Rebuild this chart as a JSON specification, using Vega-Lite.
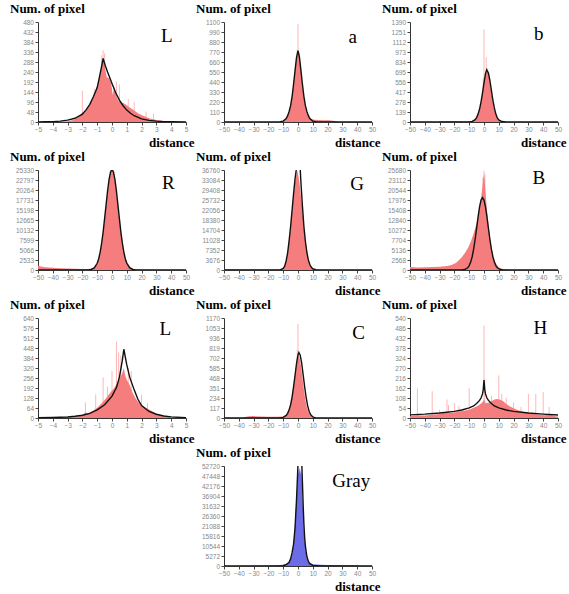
{
"$schema":"https://vega.github.io/schema/vega-lite/v6.json",
"padding":{"left":10,"top":3,"right":2,"bottom":2},
"background":"white",
"datasets":{
"lab":[{"p":"L1","t":"L","x":3.7,"y":413},{"p":"a","t":"a","x":37,"y":935},{"p":"b","t":"b","x":37,"y":1220},{"p":"R","t":"R","x":38,"y":22000},{"p":"G","t":"G","x":40,"y":31600},{"p":"B","t":"B","x":37,"y":23600},{"p":"L2","t":"L","x":3.6,"y":570},{"p":"C","t":"C","x":41,"y":995},{"p":"H","t":"H","x":38,"y":486},{"p":"Gy","t":"Gray","x":36,"y":44800}],
"hist":[
{"p":"L1","x":-5,"y":0},{"p":"L1","x":-3.5,"y":1},{"p":"L1","x":-3,"y":4},{"p":"L1","x":-2.6,"y":10},{"p":"L1","x":-2.3,"y":22},{"p":"L1","x":-2.1,"y":35},{"p":"L1","x":-2,"y":48},{"p":"L1","x":-1.9,"y":40},{"p":"L1","x":-1.7,"y":60},{"p":"L1","x":-1.5,"y":80},{"p":"L1","x":-1.3,"y":115},{"p":"L1","x":-1.1,"y":150},{"p":"L1","x":-1,"y":175},{"p":"L1","x":-0.9,"y":200},{"p":"L1","x":-0.75,"y":240},{"p":"L1","x":-0.65,"y":290},{"p":"L1","x":-0.55,"y":300},{"p":"L1","x":-0.45,"y":250},{"p":"L1","x":-0.35,"y":215},{"p":"L1","x":-0.2,"y":210},{"p":"L1","x":-0.05,"y":185},{"p":"L1","x":0.05,"y":130},{"p":"L1","x":0.15,"y":170},{"p":"L1","x":0.3,"y":120},{"p":"L1","x":0.45,"y":100},{"p":"L1","x":0.6,"y":95},{"p":"L1","x":0.8,"y":90},{"p":"L1","x":1,"y":80},{"p":"L1","x":1.2,"y":70},{"p":"L1","x":1.5,"y":55},{"p":"L1","x":1.8,"y":40},{"p":"L1","x":2.1,"y":30},{"p":"L1","x":2.5,"y":18},{"p":"L1","x":3,"y":10},{"p":"L1","x":3.5,"y":5},{"p":"L1","x":4,"y":2},{"p":"L1","x":5,"y":0},
{"p":"a","x":-50,"y":0},{"p":"a","x":-13,"y":0},{"p":"a","x":-11,"y":8},{"p":"a","x":-9,"y":22},{"p":"a","x":-7,"y":60},{"p":"a","x":-6,"y":110},{"p":"a","x":-5,"y":180},{"p":"a","x":-4,"y":290},{"p":"a","x":-3,"y":440},{"p":"a","x":-2,"y":590},{"p":"a","x":-1,"y":700},{"p":"a","x":0,"y":760},{"p":"a","x":1,"y":720},{"p":"a","x":2,"y":570},{"p":"a","x":3,"y":410},{"p":"a","x":4,"y":270},{"p":"a","x":5,"y":175},{"p":"a","x":6,"y":105},{"p":"a","x":7,"y":65},{"p":"a","x":8,"y":42},{"p":"a","x":10,"y":28},{"p":"a","x":13,"y":22},{"p":"a","x":17,"y":20},{"p":"a","x":21,"y":18},{"p":"a","x":25,"y":12},{"p":"a","x":27,"y":0},{"p":"a","x":50,"y":0},
{"p":"b","x":-50,"y":0},{"p":"b","x":-31,"y":0},{"p":"b","x":-30,"y":10},{"p":"b","x":-25,"y":14},{"p":"b","x":-20,"y":15},{"p":"b","x":-15,"y":12},{"p":"b","x":-11,"y":8},{"p":"b","x":-8,"y":12},{"p":"b","x":-6,"y":35},{"p":"b","x":-4,"y":110},{"p":"b","x":-3,"y":180},{"p":"b","x":-2,"y":280},{"p":"b","x":-1,"y":410},{"p":"b","x":0,"y":560},{"p":"b","x":1,"y":660},{"p":"b","x":2,"y":700},{"p":"b","x":3,"y":660},{"p":"b","x":4,"y":540},{"p":"b","x":5,"y":400},{"p":"b","x":6,"y":270},{"p":"b","x":7,"y":170},{"p":"b","x":8,"y":95},{"p":"b","x":9,"y":55},{"p":"b","x":10,"y":30},{"p":"b","x":12,"y":8},{"p":"b","x":14,"y":0},{"p":"b","x":50,"y":0},
{"p":"R","x":-50,"y":1150},{"p":"R","x":-48,"y":900},{"p":"R","x":-45,"y":700},{"p":"R","x":-40,"y":560},{"p":"R","x":-35,"y":450},{"p":"R","x":-30,"y":380},{"p":"R","x":-25,"y":300},{"p":"R","x":-20,"y":250},{"p":"R","x":-16,"y":250},{"p":"R","x":-14,"y":350},{"p":"R","x":-12,"y":650},{"p":"R","x":-10,"y":1600},{"p":"R","x":-9,"y":2700},{"p":"R","x":-8,"y":4300},{"p":"R","x":-7,"y":6600},{"p":"R","x":-6,"y":9400},{"p":"R","x":-5,"y":12700},{"p":"R","x":-4,"y":16200},{"p":"R","x":-3,"y":19800},{"p":"R","x":-2,"y":22700},{"p":"R","x":-1,"y":24600},{"p":"R","x":0,"y":25300},{"p":"R","x":1,"y":24600},{"p":"R","x":2,"y":22700},{"p":"R","x":3,"y":19800},{"p":"R","x":4,"y":16400},{"p":"R","x":5,"y":13000},{"p":"R","x":6,"y":9700},{"p":"R","x":7,"y":6900},{"p":"R","x":8,"y":4700},{"p":"R","x":9,"y":3100},{"p":"R","x":10,"y":2000},{"p":"R","x":12,"y":900},{"p":"R","x":14,"y":400},{"p":"R","x":16,"y":200},{"p":"R","x":20,"y":80},{"p":"R","x":30,"y":30},{"p":"R","x":50,"y":0},
{"p":"G","x":-50,"y":250},{"p":"G","x":-30,"y":200},{"p":"G","x":-15,"y":200},{"p":"G","x":-12,"y":250},{"p":"G","x":-10,"y":700},{"p":"G","x":-9,"y":1500},{"p":"G","x":-8,"y":3600},{"p":"G","x":-7,"y":6500},{"p":"G","x":-6,"y":11000},{"p":"G","x":-5,"y":16000},{"p":"G","x":-4,"y":22000},{"p":"G","x":-3,"y":27500},{"p":"G","x":-2,"y":32000},{"p":"G","x":-1,"y":35500},{"p":"G","x":-0.5,"y":36500},{"p":"G","x":0,"y":35500},{"p":"G","x":1,"y":32000},{"p":"G","x":2,"y":27000},{"p":"G","x":3,"y":22500},{"p":"G","x":4,"y":15000},{"p":"G","x":5,"y":10500},{"p":"G","x":6,"y":7000},{"p":"G","x":7,"y":3800},{"p":"G","x":8,"y":2000},{"p":"G","x":9,"y":1000},{"p":"G","x":10,"y":500},{"p":"G","x":12,"y":150},{"p":"G","x":15,"y":50},{"p":"G","x":20,"y":0},{"p":"G","x":50,"y":0},
{"p":"B","x":-50,"y":800},{"p":"B","x":-45,"y":650},{"p":"B","x":-40,"y":700},{"p":"B","x":-35,"y":750},{"p":"B","x":-30,"y":850},{"p":"B","x":-25,"y":1000},{"p":"B","x":-22,"y":1300},{"p":"B","x":-19,"y":1800},{"p":"B","x":-17,"y":2500},{"p":"B","x":-15,"y":3300},{"p":"B","x":-13,"y":4300},{"p":"B","x":-11,"y":5500},{"p":"B","x":-9,"y":7200},{"p":"B","x":-7,"y":9400},{"p":"B","x":-5,"y":12000},{"p":"B","x":-4,"y":13800},{"p":"B","x":-3,"y":16000},{"p":"B","x":-2,"y":18500},{"p":"B","x":-1,"y":21500},{"p":"B","x":-0.5,"y":23500},{"p":"B","x":0,"y":24500},{"p":"B","x":0.5,"y":23000},{"p":"B","x":1,"y":20000},{"p":"B","x":2,"y":15500},{"p":"B","x":3,"y":11500},{"p":"B","x":4,"y":8300},{"p":"B","x":5,"y":5800},{"p":"B","x":6,"y":4000},{"p":"B","x":7,"y":2700},{"p":"B","x":8,"y":1700},{"p":"B","x":10,"y":700},{"p":"B","x":12,"y":300},{"p":"B","x":15,"y":100},{"p":"B","x":20,"y":30},{"p":"B","x":50,"y":0},
{"p":"L2","x":-5,"y":0},{"p":"L2","x":-3.5,"y":2},{"p":"L2","x":-3,"y":5},{"p":"L2","x":-2.5,"y":10},{"p":"L2","x":-2,"y":18},{"p":"L2","x":-1.8,"y":35},{"p":"L2","x":-1.6,"y":30},{"p":"L2","x":-1.3,"y":45},{"p":"L2","x":-1,"y":65},{"p":"L2","x":-0.7,"y":95},{"p":"L2","x":-0.5,"y":115},{"p":"L2","x":-0.3,"y":140},{"p":"L2","x":-0.1,"y":165},{"p":"L2","x":0.1,"y":185},{"p":"L2","x":0.3,"y":215},{"p":"L2","x":0.5,"y":245},{"p":"L2","x":0.7,"y":290},{"p":"L2","x":0.8,"y":320},{"p":"L2","x":0.9,"y":270},{"p":"L2","x":1,"y":245},{"p":"L2","x":1.2,"y":210},{"p":"L2","x":1.4,"y":160},{"p":"L2","x":1.6,"y":125},{"p":"L2","x":1.8,"y":100},{"p":"L2","x":2,"y":80},{"p":"L2","x":2.3,"y":65},{"p":"L2","x":2.6,"y":50},{"p":"L2","x":3,"y":28},{"p":"L2","x":3.5,"y":12},{"p":"L2","x":4,"y":5},{"p":"L2","x":5,"y":0},
{"p":"C","x":-50,"y":0},{"p":"C","x":-37,"y":0},{"p":"C","x":-36,"y":12},{"p":"C","x":-33,"y":20},{"p":"C","x":-30,"y":22},{"p":"C","x":-25,"y":18},{"p":"C","x":-20,"y":15},{"p":"C","x":-15,"y":15},{"p":"C","x":-10,"y":17},{"p":"C","x":-8,"y":30},{"p":"C","x":-6,"y":90},{"p":"C","x":-5,"y":150},{"p":"C","x":-4,"y":240},{"p":"C","x":-3,"y":360},{"p":"C","x":-2,"y":500},{"p":"C","x":-1,"y":640},{"p":"C","x":0,"y":730},{"p":"C","x":1,"y":710},{"p":"C","x":2,"y":610},{"p":"C","x":3,"y":470},{"p":"C","x":4,"y":330},{"p":"C","x":5,"y":210},{"p":"C","x":6,"y":125},{"p":"C","x":7,"y":70},{"p":"C","x":8,"y":38},{"p":"C","x":10,"y":10},{"p":"C","x":12,"y":0},{"p":"C","x":50,"y":0},
{"p":"H","x":-50,"y":10},{"p":"H","x":-45,"y":15},{"p":"H","x":-40,"y":14},{"p":"H","x":-35,"y":18},{"p":"H","x":-30,"y":22},{"p":"H","x":-27,"y":28},{"p":"H","x":-25,"y":32},{"p":"H","x":-22,"y":28},{"p":"H","x":-20,"y":30},{"p":"H","x":-17,"y":35},{"p":"H","x":-15,"y":38},{"p":"H","x":-12,"y":42},{"p":"H","x":-10,"y":45},{"p":"H","x":-7,"y":55},{"p":"H","x":-5,"y":62},{"p":"H","x":-3,"y":72},{"p":"H","x":-1,"y":85},{"p":"H","x":0,"y":100},{"p":"H","x":1,"y":80},{"p":"H","x":3,"y":82},{"p":"H","x":5,"y":90},{"p":"H","x":7,"y":100},{"p":"H","x":9,"y":102},{"p":"H","x":11,"y":98},{"p":"H","x":13,"y":90},{"p":"H","x":15,"y":75},{"p":"H","x":17,"y":65},{"p":"H","x":20,"y":52},{"p":"H","x":23,"y":42},{"p":"H","x":26,"y":35},{"p":"H","x":30,"y":28},{"p":"H","x":35,"y":20},{"p":"H","x":40,"y":15},{"p":"H","x":45,"y":18},{"p":"H","x":48,"y":10},{"p":"H","x":50,"y":8},
{"p":"Gy","x":-50,"y":0},{"p":"Gy","x":-40,"y":0},{"p":"Gy","x":-20,"y":200},{"p":"Gy","x":-15,"y":400},{"p":"Gy","x":-10,"y":700},{"p":"Gy","x":-8,"y":1200},{"p":"Gy","x":-6,"y":2300},{"p":"Gy","x":-5,"y":3500},{"p":"Gy","x":-4,"y":6000},{"p":"Gy","x":-3,"y":11000},{"p":"Gy","x":-2,"y":23000},{"p":"Gy","x":-1.5,"y":30000},{"p":"Gy","x":-1,"y":36000},{"p":"Gy","x":-0.5,"y":43000},{"p":"Gy","x":0,"y":48000},{"p":"Gy","x":0.5,"y":51000},{"p":"Gy","x":1,"y":51500},{"p":"Gy","x":1.5,"y":48500},{"p":"Gy","x":2,"y":51000},{"p":"Gy","x":2.5,"y":47000},{"p":"Gy","x":3,"y":37000},{"p":"Gy","x":3.5,"y":27000},{"p":"Gy","x":4,"y":18000},{"p":"Gy","x":5,"y":9500},{"p":"Gy","x":6,"y":4000},{"p":"Gy","x":7,"y":2500},{"p":"Gy","x":8,"y":1600},{"p":"Gy","x":10,"y":900},{"p":"Gy","x":15,"y":600},{"p":"Gy","x":20,"y":500},{"p":"Gy","x":30,"y":350},{"p":"Gy","x":40,"y":400},{"p":"Gy","x":42,"y":0},{"p":"Gy","x":50,"y":0}
],
"fit":[
{"p":"L1","x":-5,"y":0},{"p":"L1","x":-4.5,"y":1},{"p":"L1","x":-4,"y":2},{"p":"L1","x":-3.5,"y":4},{"p":"L1","x":-3,"y":9},{"p":"L1","x":-2.5,"y":18},{"p":"L1","x":-2,"y":38},{"p":"L1","x":-1.75,"y":58},{"p":"L1","x":-1.5,"y":85},{"p":"L1","x":-1.25,"y":122},{"p":"L1","x":-1,"y":165},{"p":"L1","x":-0.85,"y":215},{"p":"L1","x":-0.7,"y":268},{"p":"L1","x":-0.6,"y":305},{"p":"L1","x":-0.45,"y":270},{"p":"L1","x":-0.3,"y":240},{"p":"L1","x":-0.15,"y":212},{"p":"L1","x":0,"y":185},{"p":"L1","x":0.25,"y":140},{"p":"L1","x":0.5,"y":105},{"p":"L1","x":0.75,"y":78},{"p":"L1","x":1,"y":57},{"p":"L1","x":1.25,"y":42},{"p":"L1","x":1.5,"y":30},{"p":"L1","x":2,"y":15},{"p":"L1","x":2.5,"y":8},{"p":"L1","x":3,"y":4},{"p":"L1","x":3.5,"y":2},{"p":"L1","x":4,"y":1},{"p":"L1","x":5,"y":0},
{"p":"a","x":-50,"y":0},{"p":"a","x":-20,"y":0},{"p":"a","x":-15,"y":1},{"p":"a","x":-12,"y":3},{"p":"a","x":-10,"y":10},{"p":"a","x":-8,"y":38},{"p":"a","x":-7,"y":70},{"p":"a","x":-6,"y":115},{"p":"a","x":-5,"y":180},{"p":"a","x":-4,"y":280},{"p":"a","x":-3,"y":415},{"p":"a","x":-2,"y":565},{"p":"a","x":-1,"y":710},{"p":"a","x":0,"y":785},{"p":"a","x":1,"y":710},{"p":"a","x":2,"y":565},{"p":"a","x":3,"y":415},{"p":"a","x":4,"y":280},{"p":"a","x":5,"y":180},{"p":"a","x":6,"y":115},{"p":"a","x":7,"y":70},{"p":"a","x":8,"y":38},{"p":"a","x":10,"y":10},{"p":"a","x":12,"y":3},{"p":"a","x":15,"y":1},{"p":"a","x":20,"y":0},{"p":"a","x":50,"y":0},
{"p":"b","x":-50,"y":0},{"p":"b","x":-12,"y":0},{"p":"b","x":-10,"y":2},{"p":"b","x":-8,"y":8},{"p":"b","x":-6,"y":32},{"p":"b","x":-5,"y":62},{"p":"b","x":-4,"y":110},{"p":"b","x":-3,"y":180},{"p":"b","x":-2,"y":280},{"p":"b","x":-1,"y":405},{"p":"b","x":0,"y":545},{"p":"b","x":1,"y":670},{"p":"b","x":1.8,"y":725},{"p":"b","x":3,"y":680},{"p":"b","x":4,"y":575},{"p":"b","x":5,"y":440},{"p":"b","x":6,"y":305},{"p":"b","x":7,"y":195},{"p":"b","x":8,"y":110},{"p":"b","x":9,"y":58},{"p":"b","x":10,"y":28},{"p":"b","x":12,"y":6},{"p":"b","x":15,"y":0},{"p":"b","x":50,"y":0},
{"p":"R","x":-50,"y":0},{"p":"R","x":-20,"y":0},{"p":"R","x":-16,"y":20},{"p":"R","x":-14,"y":130},{"p":"R","x":-12,"y":520},{"p":"R","x":-10,"y":1700},{"p":"R","x":-9,"y":2860},{"p":"R","x":-8,"y":4530},{"p":"R","x":-7,"y":6800},{"p":"R","x":-6,"y":9600},{"p":"R","x":-5,"y":13000},{"p":"R","x":-4,"y":16500},{"p":"R","x":-3,"y":20000},{"p":"R","x":-2,"y":22900},{"p":"R","x":-1,"y":24800},{"p":"R","x":0,"y":25500},{"p":"R","x":1,"y":24800},{"p":"R","x":2,"y":22900},{"p":"R","x":3,"y":20000},{"p":"R","x":4,"y":16500},{"p":"R","x":5,"y":13000},{"p":"R","x":6,"y":9600},{"p":"R","x":7,"y":6800},{"p":"R","x":8,"y":4530},{"p":"R","x":9,"y":2860},{"p":"R","x":10,"y":1700},{"p":"R","x":12,"y":520},{"p":"R","x":14,"y":130},{"p":"R","x":16,"y":20},{"p":"R","x":20,"y":0},{"p":"R","x":50,"y":0},
{"p":"G","x":-50,"y":0},{"p":"G","x":-15,"y":0},{"p":"G","x":-12,"y":50},{"p":"G","x":-10,"y":600},{"p":"G","x":-9,"y":1400},{"p":"G","x":-8,"y":3400},{"p":"G","x":-7,"y":6300},{"p":"G","x":-6,"y":10800},{"p":"G","x":-5,"y":16000},{"p":"G","x":-4,"y":22000},{"p":"G","x":-3,"y":28000},{"p":"G","x":-2,"y":33500},{"p":"G","x":-1,"y":37500},{"p":"G","x":0,"y":42000},{"p":"G","x":0.3,"y":43000},{"p":"G","x":1,"y":40000},{"p":"G","x":1.5,"y":37000},{"p":"G","x":2,"y":32000},{"p":"G","x":3,"y":23500},{"p":"G","x":4,"y":16000},{"p":"G","x":5,"y":10500},{"p":"G","x":6,"y":6500},{"p":"G","x":7,"y":3700},{"p":"G","x":8,"y":2000},{"p":"G","x":9,"y":1000},{"p":"G","x":10,"y":450},{"p":"G","x":12,"y":100},{"p":"G","x":15,"y":0},{"p":"G","x":50,"y":0},
{"p":"B","x":-50,"y":0},{"p":"B","x":-16,"y":0},{"p":"B","x":-15,"y":20},{"p":"B","x":-13,"y":130},{"p":"B","x":-11,"y":580},{"p":"B","x":-10,"y":1130},{"p":"B","x":-9,"y":2020},{"p":"B","x":-8,"y":3410},{"p":"B","x":-7,"y":5360},{"p":"B","x":-6,"y":7830},{"p":"B","x":-5,"y":10690},{"p":"B","x":-4,"y":13620},{"p":"B","x":-3,"y":16200},{"p":"B","x":-2,"y":17970},{"p":"B","x":-1,"y":18600},{"p":"B","x":0,"y":17970},{"p":"B","x":1,"y":16200},{"p":"B","x":2,"y":13620},{"p":"B","x":3,"y":10690},{"p":"B","x":4,"y":7830},{"p":"B","x":5,"y":5360},{"p":"B","x":6,"y":3410},{"p":"B","x":7,"y":2020},{"p":"B","x":8,"y":1130},{"p":"B","x":9,"y":580},{"p":"B","x":11,"y":130},{"p":"B","x":13,"y":20},{"p":"B","x":15,"y":0},{"p":"B","x":50,"y":0},
{"p":"L2","x":-5,"y":2},{"p":"L2","x":-4,"y":3},{"p":"L2","x":-3,"y":6},{"p":"L2","x":-2.5,"y":11},{"p":"L2","x":-2,"y":18},{"p":"L2","x":-1.5,"y":30},{"p":"L2","x":-1,"y":52},{"p":"L2","x":-0.5,"y":85},{"p":"L2","x":0,"y":140},{"p":"L2","x":0.3,"y":195},{"p":"L2","x":0.5,"y":260},{"p":"L2","x":0.7,"y":370},{"p":"L2","x":0.8,"y":440},{"p":"L2","x":0.9,"y":390},{"p":"L2","x":1,"y":340},{"p":"L2","x":1.2,"y":260},{"p":"L2","x":1.5,"y":180},{"p":"L2","x":1.75,"y":120},{"p":"L2","x":2,"y":80},{"p":"L2","x":2.5,"y":42},{"p":"L2","x":3,"y":24},{"p":"L2","x":3.5,"y":13},{"p":"L2","x":4,"y":7},{"p":"L2","x":5,"y":2},
{"p":"C","x":-50,"y":0},{"p":"C","x":-14,"y":0},{"p":"C","x":-12,"y":2},{"p":"C","x":-10,"y":8},{"p":"C","x":-8,"y":30},{"p":"C","x":-7,"y":55},{"p":"C","x":-6,"y":95},{"p":"C","x":-5,"y":155},{"p":"C","x":-4,"y":245},{"p":"C","x":-3,"y":365},{"p":"C","x":-2,"y":500},{"p":"C","x":-1,"y":635},{"p":"C","x":0,"y":740},{"p":"C","x":0.6,"y":766},{"p":"C","x":1.5,"y":735},{"p":"C","x":2.5,"y":640},{"p":"C","x":3.5,"y":505},{"p":"C","x":4.5,"y":365},{"p":"C","x":5.5,"y":240},{"p":"C","x":6.5,"y":145},{"p":"C","x":7.5,"y":80},{"p":"C","x":8.5,"y":40},{"p":"C","x":10,"y":12},{"p":"C","x":12,"y":2},{"p":"C","x":15,"y":0},{"p":"C","x":50,"y":0},
{"p":"H","x":-50,"y":17},{"p":"H","x":-40,"y":21},{"p":"H","x":-30,"y":27},{"p":"H","x":-20,"y":36},{"p":"H","x":-15,"y":43},{"p":"H","x":-10,"y":55},{"p":"H","x":-7,"y":65},{"p":"H","x":-5,"y":78},{"p":"H","x":-3,"y":95},{"p":"H","x":-2,"y":108},{"p":"H","x":-1,"y":130},{"p":"H","x":-0.5,"y":155},{"p":"H","x":0,"y":205},{"p":"H","x":0.5,"y":155},{"p":"H","x":1,"y":130},{"p":"H","x":2,"y":108},{"p":"H","x":3,"y":95},{"p":"H","x":5,"y":78},{"p":"H","x":7,"y":65},{"p":"H","x":10,"y":55},{"p":"H","x":15,"y":43},{"p":"H","x":20,"y":36},{"p":"H","x":30,"y":27},{"p":"H","x":40,"y":21},{"p":"H","x":50,"y":16},
{"p":"Gy","x":-50,"y":0},{"p":"Gy","x":-15,"y":0},{"p":"Gy","x":-10,"y":200},{"p":"Gy","x":-8,"y":700},{"p":"Gy","x":-6,"y":2000},{"p":"Gy","x":-5,"y":3800},{"p":"Gy","x":-4,"y":7000},{"p":"Gy","x":-3,"y":11500},{"p":"Gy","x":-2,"y":20000},{"p":"Gy","x":-1,"y":35000},{"p":"Gy","x":-0.3,"y":48000},{"p":"Gy","x":0,"y":54000},{"p":"Gy","x":0.6,"y":62000},{"p":"Gy","x":1.3,"y":66000},{"p":"Gy","x":2,"y":60000},{"p":"Gy","x":2.6,"y":53000},{"p":"Gy","x":3,"y":44000},{"p":"Gy","x":3.5,"y":32000},{"p":"Gy","x":4,"y":22000},{"p":"Gy","x":4.5,"y":15000},{"p":"Gy","x":5,"y":10500},{"p":"Gy","x":6,"y":5000},{"p":"Gy","x":7,"y":2500},{"p":"Gy","x":8,"y":1200},{"p":"Gy","x":10,"y":300},{"p":"Gy","x":15,"y":0},{"p":"Gy","x":50,"y":0}
],
"spk":[
{"p":"L1","x":-0.6,"y":345},{"p":"L1","x":-0.5,"y":330},{"p":"L1","x":-0.7,"y":320},{"p":"L1","x":-2,"y":150},{"p":"L1","x":0.3,"y":195},{"p":"L1","x":0.5,"y":180},{"p":"L1","x":1.1,"y":110},{"p":"L1","x":1.5,"y":95},{"p":"L1","x":2.3,"y":50},{"p":"L1","x":2.8,"y":40},{"p":"L1","x":-1.2,"y":160},
{"p":"a","x":0,"y":1080},{"p":"a","x":-0.5,"y":800},{"p":"a","x":1,"y":760},
{"p":"b","x":0,"y":1290},{"p":"b","x":1.5,"y":900},{"p":"b","x":-0.5,"y":620},{"p":"b","x":2.5,"y":750},
{"p":"B","x":0,"y":25500},{"p":"B","x":-0.7,"y":23800},{"p":"B","x":0.6,"y":24800},
{"p":"L2","x":0.3,"y":490},{"p":"L2","x":0.45,"y":420},{"p":"L2","x":0.6,"y":400},{"p":"L2","x":1.1,"y":320},{"p":"L2","x":1.3,"y":300},{"p":"L2","x":-0.6,"y":260},{"p":"L2","x":-0.3,"y":200},{"p":"L2","x":-1.8,"y":100},{"p":"L2","x":-1.1,"y":150},{"p":"L2","x":2.4,"y":95},{"p":"L2","x":2,"y":150},{"p":"L2","x":0,"y":300},
{"p":"C","x":0,"y":1100},{"p":"C","x":-0.5,"y":800},
{"p":"H","x":-45,"y":160},{"p":"H","x":-35,"y":145},{"p":"H","x":-25,"y":100},{"p":"H","x":-24,"y":70},{"p":"H","x":-20,"y":80},{"p":"H","x":-17,"y":65},{"p":"H","x":-10,"y":160},{"p":"H","x":0,"y":500},{"p":"H","x":0.5,"y":210},{"p":"H","x":10,"y":230},{"p":"H","x":12,"y":130},{"p":"H","x":15,"y":110},{"p":"H","x":20,"y":85},{"p":"H","x":25,"y":60},{"p":"H","x":30,"y":130},{"p":"H","x":35,"y":130},{"p":"H","x":40,"y":140},{"p":"H","x":44,"y":60},{"p":"H","x":-30,"y":45},{"p":"H","x":5,"y":120}
]
},
"columns":3,
"spacing":{"row":48,"column":38},
"bounds":"flush",
"concat":[
{"width":148,"height":100,"title":"Num. of pixel",
"encoding":{"x":{"field":"x","type":"quantitative","scale":{"domain":[-5,5]},"axis":{"values":[-5,-4,-3,-2,-1,0,1,2,3,4,5],"title":"distance","format":"d"}},
"y":{"field":"y","type":"quantitative","scale":{"domain":[0,480]},"axis":{"values":[0,48,96,144,192,240,288,336,384,432,480],"title":null,"format":"d"}}},
"layer":[
{"data":{"name":"spk"},"transform":[{"filter":"datum.p=='L1'"}],"mark":{"type":"rule","color":"#fdb8b8","clip":true},"encoding":{"y2":{"datum":0}}},
{"data":{"name":"hist"},"transform":[{"filter":"datum.p=='L1'"}],"mark":{"type":"area","color":"#f57d7d","clip":true},"encoding":{}},
{"data":{"name":"fit"},"transform":[{"filter":"datum.p=='L1'"}],"mark":{"type":"line","color":"#111","strokeWidth":1.4,"clip":true},"encoding":{}},
{"data":{"name":"lab"},"transform":[{"filter":"datum.p=='L1'"}],"mark":{"type":"text"},"encoding":{"text":{"field":"t"}}}
]},
{"width":148,"height":100,"title":"Num. of pixel",
"encoding":{"x":{"field":"x","type":"quantitative","scale":{"domain":[-50,50]},"axis":{"values":[-50,-40,-30,-20,-10,0,10,20,30,40,50],"title":"distance","format":"d"}},
"y":{"field":"y","type":"quantitative","scale":{"domain":[0,1100]},"axis":{"values":[0,110,220,330,440,550,660,770,880,990,1100],"title":null,"format":"d"}}},
"layer":[
{"data":{"name":"spk"},"transform":[{"filter":"datum.p=='a'"}],"mark":{"type":"rule","color":"#fdb8b8","clip":true},"encoding":{"y2":{"datum":0}}},
{"data":{"name":"hist"},"transform":[{"filter":"datum.p=='a'"}],"mark":{"type":"area","color":"#f57d7d","clip":true},"encoding":{}},
{"data":{"name":"fit"},"transform":[{"filter":"datum.p=='a'"}],"mark":{"type":"line","color":"#111","strokeWidth":1.4,"clip":true},"encoding":{}},
{"data":{"name":"lab"},"transform":[{"filter":"datum.p=='a'"}],"mark":{"type":"text"},"encoding":{"text":{"field":"t"}}}
]},
{"width":148,"height":100,"title":"Num. of pixel",
"encoding":{"x":{"field":"x","type":"quantitative","scale":{"domain":[-50,50]},"axis":{"values":[-50,-40,-30,-20,-10,0,10,20,30,40,50],"title":"distance","format":"d"}},
"y":{"field":"y","type":"quantitative","scale":{"domain":[0,1390]},"axis":{"values":[0,139,278,417,556,695,834,973,1112,1251,1390],"title":null,"format":"d"}}},
"layer":[
{"data":{"name":"spk"},"transform":[{"filter":"datum.p=='b'"}],"mark":{"type":"rule","color":"#fdb8b8","clip":true},"encoding":{"y2":{"datum":0}}},
{"data":{"name":"hist"},"transform":[{"filter":"datum.p=='b'"}],"mark":{"type":"area","color":"#f57d7d","clip":true},"encoding":{}},
{"data":{"name":"fit"},"transform":[{"filter":"datum.p=='b'"}],"mark":{"type":"line","color":"#111","strokeWidth":1.4,"clip":true},"encoding":{}},
{"data":{"name":"lab"},"transform":[{"filter":"datum.p=='b'"}],"mark":{"type":"text"},"encoding":{"text":{"field":"t"}}}
]},
{"width":148,"height":100,"title":"Num. of pixel",
"encoding":{"x":{"field":"x","type":"quantitative","scale":{"domain":[-50,50]},"axis":{"values":[-50,-40,-30,-20,-10,0,10,20,30,40,50],"title":"distance","format":"d"}},
"y":{"field":"y","type":"quantitative","scale":{"domain":[0,25330]},"axis":{"values":[0,2533,5066,7599,10132,12665,15198,17731,20264,22797,25330],"title":null,"format":"d"}}},
"layer":[
{"data":{"name":"hist"},"transform":[{"filter":"datum.p=='R'"}],"mark":{"type":"area","color":"#f57d7d","clip":true},"encoding":{}},
{"data":{"name":"fit"},"transform":[{"filter":"datum.p=='R'"}],"mark":{"type":"line","color":"#111","strokeWidth":1.4,"clip":true},"encoding":{}},
{"data":{"name":"lab"},"transform":[{"filter":"datum.p=='R'"}],"mark":{"type":"text"},"encoding":{"text":{"field":"t"}}}
]},
{"width":148,"height":100,"title":"Num. of pixel",
"encoding":{"x":{"field":"x","type":"quantitative","scale":{"domain":[-50,50]},"axis":{"values":[-50,-40,-30,-20,-10,0,10,20,30,40,50],"title":"distance","format":"d"}},
"y":{"field":"y","type":"quantitative","scale":{"domain":[0,36760]},"axis":{"values":[0,3676,7352,11028,14704,18380,22056,25732,29408,33084,36760],"title":null,"format":"d"}}},
"layer":[
{"data":{"name":"hist"},"transform":[{"filter":"datum.p=='G'"}],"mark":{"type":"area","color":"#f57d7d","clip":true},"encoding":{}},
{"data":{"name":"fit"},"transform":[{"filter":"datum.p=='G'"}],"mark":{"type":"line","color":"#111","strokeWidth":1.4,"clip":true},"encoding":{}},
{"data":{"name":"lab"},"transform":[{"filter":"datum.p=='G'"}],"mark":{"type":"text"},"encoding":{"text":{"field":"t"}}}
]},
{"width":148,"height":100,"title":"Num. of pixel",
"encoding":{"x":{"field":"x","type":"quantitative","scale":{"domain":[-50,50]},"axis":{"values":[-50,-40,-30,-20,-10,0,10,20,30,40,50],"title":"distance","format":"d"}},
"y":{"field":"y","type":"quantitative","scale":{"domain":[0,25680]},"axis":{"values":[0,2568,5136,7704,10272,12840,15408,17976,20544,23112,25680],"title":null,"format":"d"}}},
"layer":[
{"data":{"name":"spk"},"transform":[{"filter":"datum.p=='B'"}],"mark":{"type":"rule","color":"#fdb8b8","clip":true},"encoding":{"y2":{"datum":0}}},
{"data":{"name":"hist"},"transform":[{"filter":"datum.p=='B'"}],"mark":{"type":"area","color":"#f57d7d","clip":true},"encoding":{}},
{"data":{"name":"fit"},"transform":[{"filter":"datum.p=='B'"}],"mark":{"type":"line","color":"#111","strokeWidth":1.4,"clip":true},"encoding":{}},
{"data":{"name":"lab"},"transform":[{"filter":"datum.p=='B'"}],"mark":{"type":"text"},"encoding":{"text":{"field":"t"}}}
]},
{"width":148,"height":100,"title":"Num. of pixel",
"encoding":{"x":{"field":"x","type":"quantitative","scale":{"domain":[-5,5]},"axis":{"values":[-5,-4,-3,-2,-1,0,1,2,3,4,5],"title":"distance","format":"d"}},
"y":{"field":"y","type":"quantitative","scale":{"domain":[0,640]},"axis":{"values":[0,64,128,192,256,320,384,448,512,576,640],"title":null,"format":"d"}}},
"layer":[
{"data":{"name":"spk"},"transform":[{"filter":"datum.p=='L2'"}],"mark":{"type":"rule","color":"#fdb8b8","clip":true},"encoding":{"y2":{"datum":0}}},
{"data":{"name":"hist"},"transform":[{"filter":"datum.p=='L2'"}],"mark":{"type":"area","color":"#f57d7d","clip":true},"encoding":{}},
{"data":{"name":"fit"},"transform":[{"filter":"datum.p=='L2'"}],"mark":{"type":"line","color":"#111","strokeWidth":1.4,"clip":true},"encoding":{}},
{"data":{"name":"lab"},"transform":[{"filter":"datum.p=='L2'"}],"mark":{"type":"text"},"encoding":{"text":{"field":"t"}}}
]},
{"width":148,"height":100,"title":"Num. of pixel",
"encoding":{"x":{"field":"x","type":"quantitative","scale":{"domain":[-50,50]},"axis":{"values":[-50,-40,-30,-20,-10,0,10,20,30,40,50],"title":"distance","format":"d"}},
"y":{"field":"y","type":"quantitative","scale":{"domain":[0,1170]},"axis":{"values":[0,117,234,351,468,585,702,819,936,1053,1170],"title":null,"format":"d"}}},
"layer":[
{"data":{"name":"spk"},"transform":[{"filter":"datum.p=='C'"}],"mark":{"type":"rule","color":"#fdb8b8","clip":true},"encoding":{"y2":{"datum":0}}},
{"data":{"name":"hist"},"transform":[{"filter":"datum.p=='C'"}],"mark":{"type":"area","color":"#f57d7d","clip":true},"encoding":{}},
{"data":{"name":"fit"},"transform":[{"filter":"datum.p=='C'"}],"mark":{"type":"line","color":"#111","strokeWidth":1.4,"clip":true},"encoding":{}},
{"data":{"name":"lab"},"transform":[{"filter":"datum.p=='C'"}],"mark":{"type":"text"},"encoding":{"text":{"field":"t"}}}
]},
{"width":148,"height":100,"title":"Num. of pixel",
"encoding":{"x":{"field":"x","type":"quantitative","scale":{"domain":[-50,50]},"axis":{"values":[-50,-40,-30,-20,-10,0,10,20,30,40,50],"title":"distance","format":"d"}},
"y":{"field":"y","type":"quantitative","scale":{"domain":[0,540]},"axis":{"values":[0,54,108,162,216,270,324,378,432,486,540],"title":null,"format":"d"}}},
"layer":[
{"data":{"name":"spk"},"transform":[{"filter":"datum.p=='H'"}],"mark":{"type":"rule","color":"#fdb8b8","clip":true},"encoding":{"y2":{"datum":0}}},
{"data":{"name":"hist"},"transform":[{"filter":"datum.p=='H'"}],"mark":{"type":"area","color":"#f57d7d","clip":true},"encoding":{}},
{"data":{"name":"fit"},"transform":[{"filter":"datum.p=='H'"}],"mark":{"type":"line","color":"#111","strokeWidth":1.4,"clip":true},"encoding":{}},
{"data":{"name":"lab"},"transform":[{"filter":"datum.p=='H'"}],"mark":{"type":"text"},"encoding":{"text":{"field":"t"}}}
]},
{"width":148,"height":100,"data":{"values":[{}]},"mark":{"type":"point","opacity":0},"encoding":{}},
{"width":148,"height":100,"title":"Num. of pixel",
"encoding":{"x":{"field":"x","type":"quantitative","scale":{"domain":[-50,50]},"axis":{"values":[-50,-40,-30,-20,-10,0,10,20,30,40,50],"title":"distance","format":"d"}},
"y":{"field":"y","type":"quantitative","scale":{"domain":[0,52720]},"axis":{"values":[0,5272,10544,15816,21088,26360,31632,36904,42176,47448,52720],"title":null,"format":"d"}}},
"layer":[
{"data":{"name":"hist"},"transform":[{"filter":"datum.p=='Gy'"}],"mark":{"type":"area","color":"#6c6ce8","clip":true},"encoding":{}},
{"data":{"name":"fit"},"transform":[{"filter":"datum.p=='Gy'"}],"mark":{"type":"line","color":"#111","strokeWidth":1.4,"clip":true},"encoding":{}},
{"data":{"name":"lab"},"transform":[{"filter":"datum.p=='Gy'"}],"mark":{"type":"text"},"encoding":{"text":{"field":"t"}}}
]}
],
"config":{
"view":{"stroke":null},
"axis":{"grid":false,"labelFont":"Liberation Sans","labelFontSize":6.5,"labelColor":"#888888","labelPadding":1.5,"tickSize":3,"tickColor":"#444444","domainColor":"#333333","labelOverlap":false,"labelFlush":false,"titleFont":"'Liberation Serif', serif","titleFontSize":13,"titleFontWeight":"bold","titleColor":"#000000"},
"axisX":{"titleAlign":"right","titleX":156,"titleY":24,"titleBaseline":"alphabetic"},
"title":{"font":"'Liberation Serif', serif","fontSize":13,"fontWeight":"bold","color":"#000000","anchor":"start","frame":"group","dx":-28,"offset":3},
"text":{"font":"'Liberation Serif', serif","fontSize":19,"align":"center","baseline":"middle","color":"#000000"}
}
}
